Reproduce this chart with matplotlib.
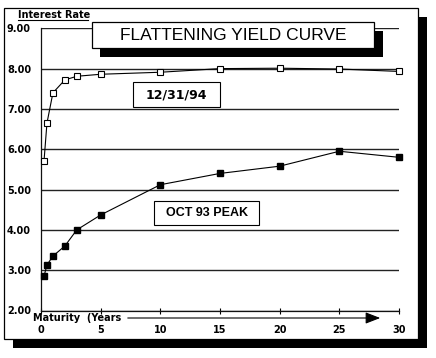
import matplotlib
matplotlib.use('Agg')
import matplotlib.pyplot as plt
from matplotlib.patches import Rectangle

# maturities in years and yields (%)
maturity = [0.25, 0.5, 1, 2, 3, 5, 10, 15, 20, 25, 30]
dec94 = [5.70, 6.65, 7.40, 7.72, 7.81, 7.86, 7.91, 8.00, 8.01, 7.99, 7.93]
oct93 = [2.85, 3.13, 3.35, 3.60, 4.00, 4.37, 5.12, 5.40, 5.58, 5.95, 5.80]
yticks = [2, 3, 4, 5, 6, 7, 8, 9]
ytick_labels = ['2.00', '3.00', '4.00', '5.00', '6.00', '7.00', '8.00', '9.00']
xticks = [0, 5, 10, 15, 20, 25, 30]

W, H = 436, 358
fig = plt.figure(figsize=(W / 100, H / 100), dpi=100)

def overlay(z):
    a = fig.add_axes([0, 0, 1, 1], zorder=z)
    a.set_xlim(0, W)
    a.set_ylim(H, 0)
    a.axis('off')
    a.patch.set_alpha(0)
    return a

bg = overlay(0)
# outer frame with drop shadow
bg.add_patch(Rectangle((13, 17), 414, 331, facecolor='black', edgecolor='none'))
bg.add_patch(Rectangle((4, 8), 414, 331, facecolor='white', edgecolor='black', lw=0.9))
bg.text(18, 15, 'Interest Rate', fontsize=7, fontweight='bold', ha='left', va='center')
bg.plot([18, 88], [20, 20], color='black', lw=0.8)

ax = fig.add_axes([41 / W, 1 - 310.5 / H, 358 / W, 282.2 / H], zorder=1)
ax.patch.set_alpha(0)
ax.set_xlim(0, 30)
ax.set_ylim(2, 9)
for s in ['top', 'right']:
    ax.spines[s].set_visible(False)
for s in ['left', 'bottom']:
    ax.spines[s].set_linewidth(0.9)
    ax.spines[s].set_color('#111111')

ax.set_yticks(yticks)
ax.set_yticklabels(ytick_labels, fontsize=7, fontweight='bold')
ax.tick_params(axis='y', length=0, pad=24.5)
for lbl in ax.get_yticklabels():
    lbl.set_horizontalalignment('left')
ax.grid(axis='y', color='#222222', lw=1.0)

ax.set_xticks(xticks)
ax.set_xticklabels([str(x) for x in xticks], fontsize=7, fontweight='bold')
ax.tick_params(axis='x', direction='inout', length=4.5, width=0.8, pad=8)

ax.plot(maturity, dec94, color='black', lw=0.8, marker='s', ms=5,
        mfc='white', mec='black', mew=0.8, clip_on=False, zorder=3)
ax.plot(maturity, oct93, color='black', lw=0.8, marker='s', ms=4.5,
        mfc='black', mec='black', clip_on=False, zorder=3)

fg = overlay(2)
# title box with shadow
fg.add_patch(Rectangle((100, 31), 283, 26, facecolor='black', edgecolor='none'))
fg.add_patch(Rectangle((92, 22), 282, 26, facecolor='white', edgecolor='black', lw=0.9))
fg.text(233, 35.5, 'FLATTENING YIELD CURVE', fontsize=12.5, family='Liberation Sans',
        ha='center', va='center')

fg.add_patch(Rectangle((133, 82), 87, 25, facecolor='white', edgecolor='black', lw=0.8))
fg.text(176.5, 95, '12/31/94', fontsize=9, fontweight='bold', ha='center', va='center')

fg.add_patch(Rectangle((154, 201), 105, 24, facecolor='white', edgecolor='black', lw=0.8))
fg.text(206.5, 213.5, 'OCT 93 PEAK', fontsize=9, fontweight='bold',
        family='Liberation Sans', ha='center', va='center')

fg.text(33, 318, 'Maturity  (Years', fontsize=7, fontweight='bold', ha='left', va='center')
fg.annotate('', xy=(383, 318), xytext=(125, 318),
            arrowprops=dict(arrowstyle='-|>,head_length=0.9,head_width=0.35',
                            color='black', lw=0.8, mutation_scale=10))

fig.savefig('out.png', dpi=100)
